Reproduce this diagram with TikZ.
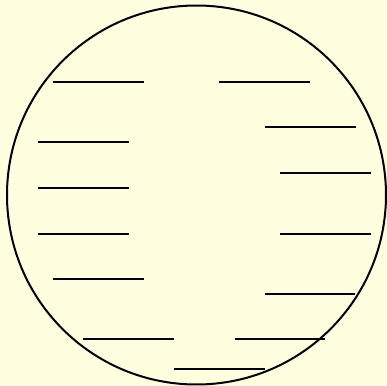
\documentclass[tikz,border=0pt]{standalone}
\usepackage{xcolor}
\usepackage{tikz}
\definecolor{paper}{HTML}{FFFFE0}

\begin{document}
\begin{tikzpicture}[x=0.02cm,y=-0.02cm,
  rim/.style={draw=black,line width=0.04cm},
  bar/.style={draw=black,line width=0.04cm}]
  \fill[paper] (0,0) rectangle (387,386);
  \useasboundingbox (0,0) rectangle (387,386);
  % outer circle
  \draw[rim] (196.5,195) circle[radius=189.5];
  % short bars, left and right of the middle
  \foreach \xa/\xb/\yy in {53/144/82,219/310/82,265/356/127,38/129/142,
    280/371/173,38/129/188,38/129/233.7,280/371/233.7,53/144/278.7,
    265/355/293.7,83/174/339.3,235/325/339.3,174/265/369.3} {
    \draw[bar] (\xa,\yy) -- (\xb,\yy);
  }
\end{tikzpicture}
\end{document}
